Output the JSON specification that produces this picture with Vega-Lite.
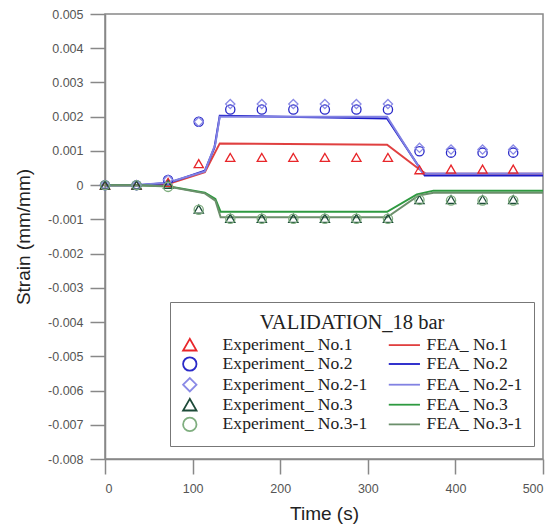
{
  "$schema": "https://vega.github.io/schema/vega-lite/v6.json",
  "width": 438,
  "height": 445,
  "autosize": {"type": "none"},
  "padding": {"left": 105, "top": 14, "right": 14, "bottom": 69},
  "background": "white",
  "config": {
    "view": {"stroke": "#888", "strokeWidth": 1.5},
    "axis": {
      "domainColor": "#888", "domainWidth": 1.5, "tickColor": "#888", "tickWidth": 1.5, "tickSize": 15,
      "labelFont": "Liberation Sans", "labelFontSize": 12.5, "labelColor": "#555",
      "titleFont": "Liberation Sans", "titleFontSize": 19, "titleFontWeight": "normal", "titleColor": "#222",
      "grid": false
    }
  },
  "datasets": {
    "exp": [
      {"s": "Experiment_ No.1", "t": 0, "v": 0}, {"s": "Experiment_ No.1", "t": 36, "v": 0}, {"s": "Experiment_ No.1", "t": 72, "v": 0.00008},
      {"s": "Experiment_ No.1", "t": 107, "v": 0.00063}, {"s": "Experiment_ No.1", "t": 143, "v": 0.00081}, {"s": "Experiment_ No.1", "t": 179, "v": 0.00081},
      {"s": "Experiment_ No.1", "t": 215, "v": 0.00081}, {"s": "Experiment_ No.1", "t": 251, "v": 0.00081}, {"s": "Experiment_ No.1", "t": 287, "v": 0.00081},
      {"s": "Experiment_ No.1", "t": 323, "v": 0.00081}, {"s": "Experiment_ No.1", "t": 359, "v": 0.00045}, {"s": "Experiment_ No.1", "t": 395, "v": 0.00047},
      {"s": "Experiment_ No.1", "t": 431, "v": 0.00047}, {"s": "Experiment_ No.1", "t": 466, "v": 0.00047},

      {"s": "Experiment_ No.2", "t": 0, "v": 0}, {"s": "Experiment_ No.2", "t": 36, "v": 0}, {"s": "Experiment_ No.2", "t": 72, "v": 0.00015},
      {"s": "Experiment_ No.2", "t": 107, "v": 0.00185}, {"s": "Experiment_ No.2", "t": 143, "v": 0.00221}, {"s": "Experiment_ No.2", "t": 179, "v": 0.00221},
      {"s": "Experiment_ No.2", "t": 215, "v": 0.00221}, {"s": "Experiment_ No.2", "t": 251, "v": 0.00221}, {"s": "Experiment_ No.2", "t": 287, "v": 0.00221},
      {"s": "Experiment_ No.2", "t": 323, "v": 0.00221}, {"s": "Experiment_ No.2", "t": 359, "v": 0.00099}, {"s": "Experiment_ No.2", "t": 395, "v": 0.00095},
      {"s": "Experiment_ No.2", "t": 431, "v": 0.00095}, {"s": "Experiment_ No.2", "t": 466, "v": 0.00095},

      {"s": "Experiment_ No.2-1", "t": 0, "v": 0}, {"s": "Experiment_ No.2-1", "t": 36, "v": 0}, {"s": "Experiment_ No.2-1", "t": 72, "v": 0.00016},
      {"s": "Experiment_ No.2-1", "t": 107, "v": 0.00185}, {"s": "Experiment_ No.2-1", "t": 143, "v": 0.00237}, {"s": "Experiment_ No.2-1", "t": 179, "v": 0.00237},
      {"s": "Experiment_ No.2-1", "t": 215, "v": 0.00237}, {"s": "Experiment_ No.2-1", "t": 251, "v": 0.00237}, {"s": "Experiment_ No.2-1", "t": 287, "v": 0.00237},
      {"s": "Experiment_ No.2-1", "t": 323, "v": 0.00237}, {"s": "Experiment_ No.2-1", "t": 359, "v": 0.00109}, {"s": "Experiment_ No.2-1", "t": 395, "v": 0.00104},
      {"s": "Experiment_ No.2-1", "t": 431, "v": 0.00104}, {"s": "Experiment_ No.2-1", "t": 466, "v": 0.00104},

      {"s": "Experiment_ No.3", "t": 0, "v": 0}, {"s": "Experiment_ No.3", "t": 36, "v": 0}, {"s": "Experiment_ No.3", "t": 72, "v": 0.00002},
      {"s": "Experiment_ No.3", "t": 107, "v": -0.0007}, {"s": "Experiment_ No.3", "t": 143, "v": -0.00097}, {"s": "Experiment_ No.3", "t": 179, "v": -0.00097},
      {"s": "Experiment_ No.3", "t": 215, "v": -0.00097}, {"s": "Experiment_ No.3", "t": 251, "v": -0.00097}, {"s": "Experiment_ No.3", "t": 287, "v": -0.00097},
      {"s": "Experiment_ No.3", "t": 323, "v": -0.00097}, {"s": "Experiment_ No.3", "t": 359, "v": -0.00042}, {"s": "Experiment_ No.3", "t": 395, "v": -0.00042},
      {"s": "Experiment_ No.3", "t": 431, "v": -0.00042}, {"s": "Experiment_ No.3", "t": 466, "v": -0.00042},

      {"s": "Experiment_ No.3-1", "t": 0, "v": 0}, {"s": "Experiment_ No.3-1", "t": 36, "v": 0}, {"s": "Experiment_ No.3-1", "t": 72, "v": -0.00005},
      {"s": "Experiment_ No.3-1", "t": 107, "v": -0.00072}, {"s": "Experiment_ No.3-1", "t": 143, "v": -0.00098}, {"s": "Experiment_ No.3-1", "t": 179, "v": -0.00098},
      {"s": "Experiment_ No.3-1", "t": 215, "v": -0.00098}, {"s": "Experiment_ No.3-1", "t": 251, "v": -0.00098}, {"s": "Experiment_ No.3-1", "t": 287, "v": -0.00098},
      {"s": "Experiment_ No.3-1", "t": 323, "v": -0.00098}, {"s": "Experiment_ No.3-1", "t": 359, "v": -0.00043}, {"s": "Experiment_ No.3-1", "t": 395, "v": -0.00045},
      {"s": "Experiment_ No.3-1", "t": 431, "v": -0.00045}, {"s": "Experiment_ No.3-1", "t": 466, "v": -0.00045}
    ],
    "fea": [
      {"s": "FEA_ No.1", "t": 0, "v": 0}, {"s": "FEA_ No.1", "t": 36, "v": 0}, {"s": "FEA_ No.1", "t": 72, "v": 0.00003},
      {"s": "FEA_ No.1", "t": 114, "v": 0.00038}, {"s": "FEA_ No.1", "t": 131, "v": 0.00122}, {"s": "FEA_ No.1", "t": 322, "v": 0.00118},
      {"s": "FEA_ No.1", "t": 358, "v": 0.00048}, {"s": "FEA_ No.1", "t": 366, "v": 0.00034}, {"s": "FEA_ No.1", "t": 500, "v": 0.00033},

      {"s": "FEA_ No.2", "t": 0, "v": 0}, {"s": "FEA_ No.2", "t": 36, "v": 0}, {"s": "FEA_ No.2", "t": 72, "v": 0.00006},
      {"s": "FEA_ No.2", "t": 114, "v": 0.00042}, {"s": "FEA_ No.2", "t": 125, "v": 0.0011}, {"s": "FEA_ No.2", "t": 131, "v": 0.00203},
      {"s": "FEA_ No.2", "t": 322, "v": 0.00195}, {"s": "FEA_ No.2", "t": 365, "v": 0.00028}, {"s": "FEA_ No.2", "t": 500, "v": 0.00028},

      {"s": "FEA_ No.2-1", "t": 0, "v": 0}, {"s": "FEA_ No.2-1", "t": 36, "v": 0}, {"s": "FEA_ No.2-1", "t": 72, "v": 0.00008},
      {"s": "FEA_ No.2-1", "t": 114, "v": 0.0004}, {"s": "FEA_ No.2-1", "t": 126, "v": 0.0012}, {"s": "FEA_ No.2-1", "t": 131, "v": 0.002},
      {"s": "FEA_ No.2-1", "t": 322, "v": 0.002}, {"s": "FEA_ No.2-1", "t": 363, "v": 0.00034}, {"s": "FEA_ No.2-1", "t": 500, "v": 0.00034},

      {"s": "FEA_ No.3", "t": 0, "v": 0}, {"s": "FEA_ No.3", "t": 36, "v": 0}, {"s": "FEA_ No.3", "t": 72, "v": -0.00003},
      {"s": "FEA_ No.3", "t": 114, "v": -0.00022}, {"s": "FEA_ No.3", "t": 126, "v": -0.0004}, {"s": "FEA_ No.3", "t": 132, "v": -0.00078},
      {"s": "FEA_ No.3", "t": 322, "v": -0.00078}, {"s": "FEA_ No.3", "t": 356, "v": -0.00027}, {"s": "FEA_ No.3", "t": 375, "v": -0.00016},
      {"s": "FEA_ No.3", "t": 500, "v": -0.00016},

      {"s": "FEA_ No.3-1", "t": 0, "v": 0}, {"s": "FEA_ No.3-1", "t": 36, "v": 0}, {"s": "FEA_ No.3-1", "t": 72, "v": -0.00004},
      {"s": "FEA_ No.3-1", "t": 114, "v": -0.00024}, {"s": "FEA_ No.3-1", "t": 126, "v": -0.00045}, {"s": "FEA_ No.3-1", "t": 132, "v": -0.00094},
      {"s": "FEA_ No.3-1", "t": 322, "v": -0.00094}, {"s": "FEA_ No.3-1", "t": 358, "v": -0.0003}, {"s": "FEA_ No.3-1", "t": 375, "v": -0.00022},
      {"s": "FEA_ No.3-1", "t": 500, "v": -0.00022}
    ]
  },
  "encoding": {
    "x": {
      "field": "t", "type": "quantitative", "title": "Time (s)",
      "scale": {"domain": [0, 500], "nice": false, "zero": false},
      "axis": {"values": [0, 100, 200, 300, 400, 500], "labelPadding": 8, "titlePadding": 10}
    },
    "y": {
      "field": "v", "type": "quantitative", "title": "Strain (mm/mm)",
      "scale": {"domain": [-0.008, 0.005], "nice": false, "zero": false},
      "axis": {
        "values": [-0.008, -0.007, -0.006, -0.005, -0.004, -0.003, -0.002, -0.001, 0, 0.001, 0.002, 0.003, 0.004, 0.005],
        "labelExpr": "datum.value == 0 ? '0' : replace(format(datum.value, '.3f'), '\u2212', '-')",
        "labelPadding": 7, "titlePadding": 14
      }
    },
    "color": {
      "field": "s", "type": "nominal",
      "scale": {
        "domain": ["Experiment_ No.1", "Experiment_ No.2", "Experiment_ No.2-1", "Experiment_ No.3", "Experiment_ No.3-1", "FEA_ No.1", "FEA_ No.2", "FEA_ No.2-1", "FEA_ No.3", "FEA_ No.3-1"],
        "range": ["#e8262a", "#2a2ac8", "#8a8ae6", "#1c4a38", "#7fae7f", "#e04040", "#1c1cc8", "#8282e2", "#2e9a40", "#6b8f6b"]
      },
      "legend": {
        "orient": "none", "legendX": 65, "legendY": 288, "columns": 2,
        "title": "VALIDATION_18 bar", "titleFont": "Liberation Serif", "titleFontSize": 20.5, "titleFontWeight": "normal",
        "titleColor": "#222", "titleAnchor": "middle", "titlePadding": 2, "titleLimit": 400,
        "labelFont": "Liberation Serif", "labelFontSize": 17.6, "labelColor": "#222", "labelOffset": 24, "labelLimit": 300,
        "symbolSize": 180, "symbolStrokeWidth": 1.8,
        "columnPadding": 17, "rowPadding": -1.3, "padding": 11,
        "strokeColor": "#777", "fillColor": "white",
        "encode": {"symbols": {"update": {"fill": {"value": "transparent"}, "stroke": {"scale": "color", "field": "value"}}}}
      }
    }
  },
  "layer": [
    {
      "data": {"name": "fea"},
      "mark": {"type": "line", "strokeWidth": 2},
      "encoding": {"detail": {"field": "s"}}
    },
    {
      "data": {"name": "exp"},
      "mark": {"type": "point", "filled": false, "size": 85, "strokeWidth": 1.3, "opacity": 1},
      "encoding": {
        "shape": {
          "field": "s", "type": "nominal",
          "scale": {
            "domain": ["Experiment_ No.1", "Experiment_ No.2", "Experiment_ No.2-1", "Experiment_ No.3", "Experiment_ No.3-1", "FEA_ No.1", "FEA_ No.2", "FEA_ No.2-1", "FEA_ No.3", "FEA_ No.3-1"],
            "range": ["triangle-up", "circle", "diamond", "triangle-up", "circle", "M-0.75,0H3.9", "M-0.75,0H3.9", "M-0.75,0H3.9", "M-0.75,0H3.9", "M-0.75,0H3.9"]
          }
        }
      }
    }
  ]
}
